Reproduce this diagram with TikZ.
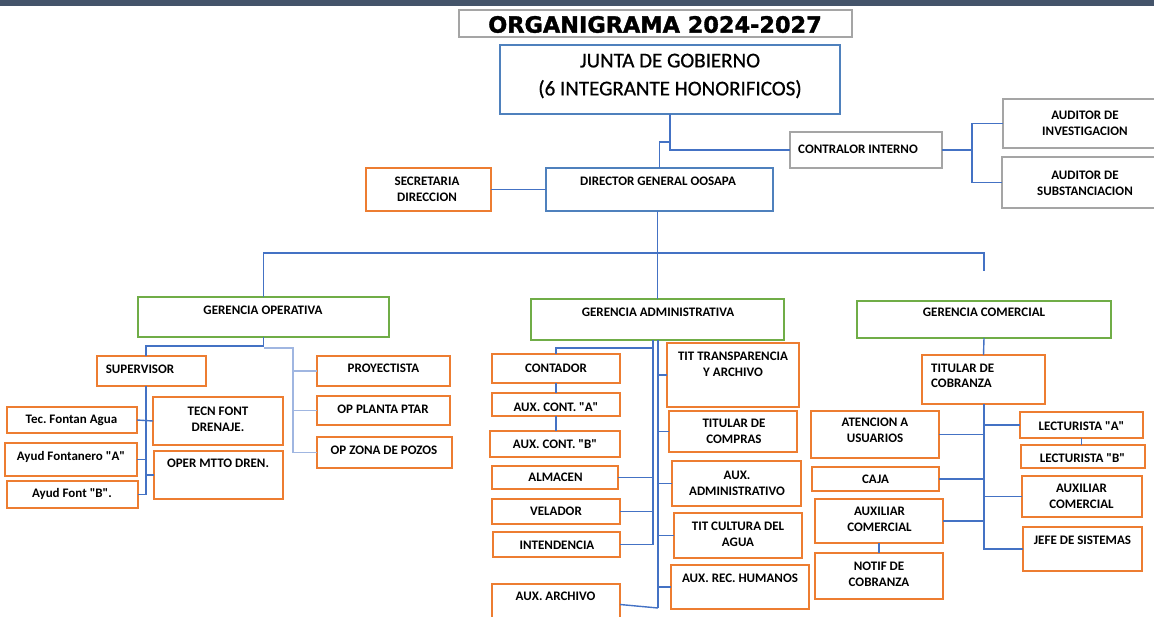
\documentclass[tikz,border=0pt]{standalone}
\usepackage{fontspec}
\setmainfont{Carlito}
\newfontfamily\cf{Carlito}
\newfontfamily\cfj{Carlito}[FakeBold=0.7]
\newfontfamily\titlefont{DejaVu Sans}[BoldFeatures={FakeBold=1.5}]
\usetikzlibrary{calc}
\definecolor{band}{RGB}{68,84,106}
\definecolor{lnblue}{RGB}{68,114,196}
\definecolor{lnlight}{RGB}{160,182,225}
\definecolor{bxblue}{RGB}{79,129,189}
\definecolor{bxorange}{RGB}{237,125,49}
\definecolor{bxgreen}{RGB}{112,173,71}
\definecolor{bxgray}{RGB}{165,165,165}
\tikzset{
  base/.style={rectangle, inner sep=0pt, outer sep=0pt, fill=white},
  bblue/.style={base, draw=bxblue, line width=1.6pt},
  borange/.style={base, draw=bxorange, line width=1.8pt},
  bgreen/.style={base, draw=bxgreen, line width=1.8pt},
  bgray/.style={base, draw=bxgray, line width=1.6pt},
  txt/.style={inner sep=0pt, align=center, text=black, font=\cf\bfseries\fontsize{13}{16}\selectfont},
  ln/.style={draw=lnblue, line width=1.4pt},
  lnl/.style={draw=lnlight, line width=1.8pt},
}
\newcommand{\bx}[9]{%
  \node[#2, minimum width={#5-#3}, minimum height={#6-#4}] (#1) at ({(#3+#5)/2},{(#4+#6)/2}) {};
  \node[txt] (#1-t) at (#7,#8) {#9};}
\begin{document}
\begin{tikzpicture}[x=1pt,y=-1pt]
\useasboundingbox (0,0) rectangle (1154,616);
\clip (0,0) rectangle (1154,616);
\fill[band] (0,0) rectangle (1154,6);

% coordinates for buses
\coordinate (brR) at (984,253);
\coordinate (gcend) at (984,271);
\coordinate (sv) at (146,346);
\coordinate (pv) at (293,348);
\coordinate (gr) at (658,608);
\coordinate (gl) at (653,340);
\coordinate (cb) at (653,348);
\coordinate (cv) at (984,550);

% top
\node[bgray, minimum width=393, minimum height=27] (title) at (655.5,23.5) {};
\node[inner sep=0pt, font=\titlefont\bfseries\fontsize{22.4}{24}\selectfont] (title-t) at (655,24.5) {ORGANIGRAMA 2024-2027};

\node[bblue, minimum width=340, minimum height=69] (junta) at (670,79.5) {};
\node[inner sep=0pt, align=center, font=\cfj\fontsize{21}{28}\selectfont] (junta-t) at (670,76) {JUNTA DE GOBIERNO\\(6 INTEGRANTE HONORIFICOS)};

\bx{contralor}{bgray}{790}{132}{942}{168}{858}{149}{CONTRALOR INTERNO}
\bx{audinv}{bgray}{1003}{99}{1162}{148}{1085}{123.5}{AUDITOR DE\\INVESTIGACION}
\bx{audsub}{bgray}{1002}{157}{1162}{208}{1085}{183}{AUDITOR DE\\SUBSTANCIACION}
\bx{secretaria}{borange}{366}{168}{491}{211}{427}{189}{SECRETARIA\\DIRECCION}
\bx{director}{bblue}{546}{168}{773}{211}{658}{181}{DIRECTOR GENERAL OOSAPA}

\draw[ln] (junta.south) |- (contralor.west);
\draw[ln] ($(junta.south)+(0,28)$) -| (director.north);
\draw[ln] (contralor.east) -- ++(30,0) coordinate (cm);
\draw[ln] (cm) |- (audinv.west);
\draw[ln] (cm) |- (audsub.west);
\draw[ln] (secretaria.east) -- (director.west);

% gerencias
\bx{go}{bgreen}{138}{297}{389}{337}{263}{310}{GERENCIA OPERATIVA}
\bx{ga}{bgreen}{531}{299}{784}{340}{658}{312}{GERENCIA ADMINISTRATIVA}
\bx{gc}{bgreen}{857}{301}{1111}{338}{984}{312}{GERENCIA COMERCIAL}

\draw[ln] (director.south -| ga.north) -- (ga.north);
\draw[ln] (go.north) |- (brR) -- (gcend);

% ---------- Gerencia Operativa ----------
\bx{supervisor}{borange}{97}{356}{206}{386}{140}{369}{SUPERVISOR}
\bx{proy}{borange}{317}{356}{450}{386}{383.5}{368}{PROYECTISTA}
\bx{planta}{borange}{317}{396}{450}{425}{383}{409}{OP PLANTA PTAR}
\bx{zona}{borange}{317}{437}{452}{468}{384}{450}{OP ZONA DE POZOS}
\bx{tecf}{borange}{7}{407}{137}{433}{71.5}{420}{Tec.\ Fontan Agua}
\bx{tecn}{borange}{153}{397}{283}{445}{218}{419}{TECN FONT\\DRENAJE.}
\bx{ayuda}{borange}{5}{443}{137}{476}{71}{457}{Ayud Fontanero "A"}
\bx{oper}{borange}{154}{451}{283}{499}{218}{463}{OPER MTTO DREN.}
\bx{ayudb}{borange}{7}{481}{138}{508}{72}{494}{Ayud Font "B".}

\draw[ln] (go.south) |- (sv) -- (sv |- supervisor.north);
\draw[ln] (supervisor.south -| sv) |- (ayudb.east);
\draw[ln] (tecf.east) -- (tecn.west);
\draw[ln] (ayuda.east) -- (ayuda.east -| sv);
\draw[ln] (oper.west -| sv) -- (oper.west);
\draw[lnl] (go.south |- pv) -- (pv) |- (zona.west);
\draw[lnl] (pv |- proy.west) -- (proy.west);
\draw[lnl] (pv |- planta.west) -- (planta.west);

% ---------- Gerencia Administrativa ----------
\bx{contador}{borange}{492}{354}{620}{383}{556}{368}{CONTADOR}
\bx{auxa}{borange}{492}{393}{620}{416}{556}{407}{AUX. CONT. "A"}
\bx{auxb}{borange}{490}{431}{620}{457}{555}{444}{AUX. CONT. "B"}
\bx{almacen}{borange}{492}{466}{618}{489}{555.5}{477}{ALMACEN}
\bx{velador}{borange}{492}{499}{620}{524}{556}{511}{VELADOR}
\bx{intend}{borange}{493}{532}{620}{557}{557}{545}{INTENDENCIA}
\bx{auxarch}{borange}{492}{584}{620}{625}{555.5}{596}{AUX. ARCHIVO}
\bx{transp}{borange}{667}{343}{799}{407}{733}{364.5}{TIT TRANSPARENCIA\\Y ARCHIVO}
\bx{compras}{borange}{669}{411}{797}{452}{734}{431.5}{TITULAR DE\\COMPRAS}
\bx{auxadm}{borange}{672}{461}{801}{506}{737}{483}{AUX.\\ADMINISTRATIVO}
\bx{cultura}{borange}{674}{513}{802}{558}{738}{534.5}{TIT CULTURA DEL\\AGUA}
\bx{rech}{borange}{671}{565}{809}{609}{740}{578}{AUX. REC. HUMANOS}

\draw[ln] (ga.south -| gr) -- (gr);
\draw[ln] (gr |- transp.west) -- (transp.west);
\draw[ln] (gr |- compras.west) -- (compras.west);
\draw[ln] (gr |- auxadm.west) -- (auxadm.west);
\draw[ln] (gr |- cultura.west) -- (cultura.west);
\draw[ln] (gr |- rech.west) -- (rech.west);
\draw[ln] (auxarch.east) -- (gr);
\draw[ln] (gl) |- (intend.east);
\draw[ln] (almacen.east) -- (almacen.east -| gl);
\draw[ln] (velador.east) -- (velador.east -| gl);
\draw[ln] (cb) -| (contador.north);
\draw[ln] (contador.south) -- (contador.south |- auxa.north);
\draw[ln] (auxa.south) -- (auxa.south |- auxb.north);

% ---------- Gerencia Comercial ----------
\node[borange, minimum width=123, minimum height=49] (titcob) at (983.5,379.5) {};
\node[txt, align=left, anchor=west, font=\cf\bfseries\fontsize{13}{15}\selectfont] (titcob-t) at (931,375.5) {TITULAR DE\\COBRANZA};
\bx{atencion}{borange}{811}{411}{939}{458}{875}{430.5}{ATENCION A\\USUARIOS}
\bx{caja}{borange}{812}{467}{939}{491}{875.5}{479}{CAJA}
\bx{auxcoml}{borange}{815}{499}{943}{543}{879.5}{519}{AUXILIAR\\COMERCIAL}
\bx{notif}{borange}{815}{553}{943}{599}{879}{574}{NOTIF DE\\COBRANZA}
\bx{lecta}{borange}{1020}{412}{1143}{438}{1081.5}{426}{LECTURISTA "A"}
\bx{lectb}{borange}{1021}{445}{1145}{468}{1082.5}{458}{LECTURISTA "B"}
\bx{auxcomr}{borange}{1022}{476}{1142}{517}{1081.5}{496}{AUXILIAR\\COMERCIAL}
\bx{jefe}{borange}{1023}{527}{1142}{571}{1082.5}{540}{JEFE DE SISTEMAS}

\draw[ln] (gc.south) -- (titcob.north);
\draw[ln] (titcob.south -| cv) |- (jefe.west);
\draw[ln] (cv |- lecta.west) -- (lecta.west);
\draw[ln] (cv |- auxcomr.west) -- (auxcomr.west);
\draw[ln] (atencion.east) -- (atencion.east -| cv);
\draw[ln] (caja.east) -- (caja.east -| cv);
\draw[ln] (auxcoml.east) -- (auxcoml.east -| cv);
\draw[ln] (lecta.south) -- (lecta.south |- lectb.north);
\draw[ln] (auxcoml.south) -- (notif.north);
\end{tikzpicture}
\end{document}
